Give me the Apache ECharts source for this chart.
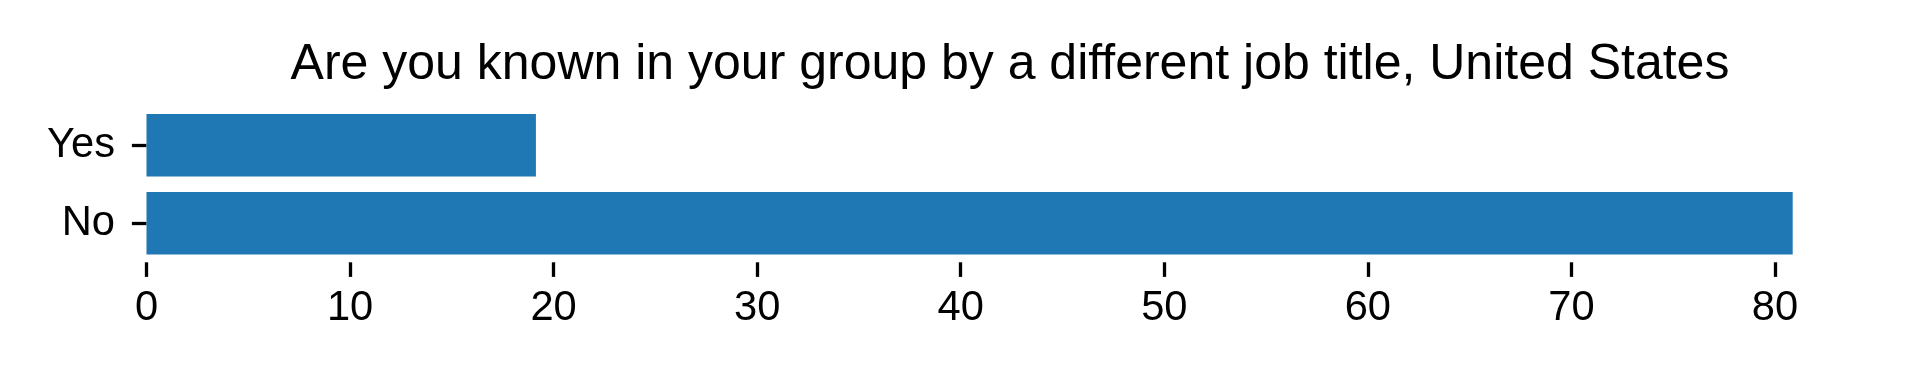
<!DOCTYPE html>
<html>
<head>
<meta charset="utf-8">
<script src="https://cdn.jsdelivr.net/npm/echarts@6/dist/echarts.min.js"></script>
<style>
html,body{margin:0;padding:0;background:#fff;}
#chart{width:1920px;height:375px;}
</style>
</head>
<body>
<div id="chart"></div>
<script>
const titleText = 'Are you known in your group by a different job title, United States';
const categories = ['Yes', 'No'];
const values = [19.13, 80.87];
const xTicks = [0, 10, 20, 30, 40, 50, 60, 70, 80];

const FONT = "'Liberation Sans', Arial, Helvetica, sans-serif";
const chart = echarts.init(document.getElementById('chart'), null, {renderer: 'canvas'});
const xMax = Math.max(...values) * 1.05;

chart.setOption({
  animation: false,
  backgroundColor: '#ffffff',
  graphic: [{
    type: 'text',
    x: 1010,
    y: 65.5,
    style: {
      text: titleText,
      font: '50px ' + FONT,
      fill: '#000',
      textAlign: 'center',
      textVerticalAlign: 'middle'
    }
  }],
  grid: {left: 146.5, right: 45, top: 106.3, height: 156},
  xAxis: {
    type: 'value',
    min: 0,
    max: xMax,
    splitLine: {show: false},
    axisLine: {show: false},
    axisTick: {show: true, length: 14.6, lineStyle: {color: '#000', width: 3.3}, customValues: xTicks},
    axisLabel: {
      customValues: xTicks,
      margin: 25,
      fontSize: 41.67,
      fontFamily: FONT,
      color: '#000'
    }
  },
  yAxis: {
    type: 'category',
    data: categories,
    inverse: true,
    axisLine: {show: false},
    axisTick: {show: true, length: 14.6, alignWithLabel: true, lineStyle: {color: '#000', width: 3.3}},
    axisLabel: {margin: 31.5, fontSize: 41.67, fontFamily: FONT, color: '#000', padding: [12, 0, 0, 0]}
  },
  series: [{
    type: 'bar',
    data: values,
    barWidth: '80%',
    itemStyle: {color: '#1f77b4'}
  }]
});
</script>
</body>
</html>
